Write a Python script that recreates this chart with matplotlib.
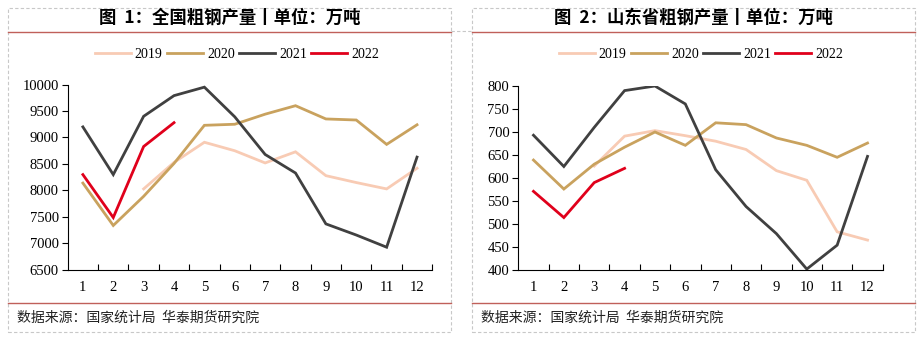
import numpy as np
import matplotlib
matplotlib.use("Agg")
import matplotlib.pyplot as plt
from matplotlib.patches import Rectangle
from matplotlib.lines import Line2D

months = [1, 2, 3, 4, 5, 6, 7, 8, 9, 10, 11, 12]
years = ["2019", "2020", "2021", "2022"]
colors = ["#F8CBB4", "#C9A25E", "#404040", "#E0001B"]

# national crude steel output, 10k tonnes
nat_2019 = [np.nan, np.nan, 8030, 8530, 8910, 8750, 8520, 8730, 8280, 8150, 8030, 8420]
nat_2020 = [8140, 7340, 7890, 8510, 9230, 9250, 9440, 9600, 9350, 9330, 8870, 9240]
nat_2021 = [9200, 8300, 9400, 9790, 9950, 9390, 8680, 8330, 7370, 7160, 6930, 8630]
nat_2022 = [8300, 7490, 8830, 9280]

# Shandong crude steel output, 10k tonnes
sd_2019 = [np.nan, np.nan, 626, 691, 703, 692, 680, 662, 616, 595, 483, 465]
sd_2020 = [639, 576, 630, 667, 700, 671, 720, 716, 687, 671, 645, 676]
sd_2021 = [693, 625, 710, 790, 800, 761, 618, 538, 479, 402, 454, 647]
sd_2022 = [571, 514, 590, 621]

W, H = 923, 339
fig = plt.figure(figsize=(W / 100, H / 100), dpi=100)

serif = "Liberation Serif"
cjk = ["Noto Sans CJK SC", "DejaVu Sans"]


def fx(x):
    return x / W


def fy(y):
    return 1 - y / H


def panel(x0, x1, title, legend_cx):
    # dashed frame
    fig.patches.append(Rectangle((fx(x0), fy(331.7)), fx(x1 - x0), (331.7 - 7.5) / H,
                                 transform=fig.transFigure, fill=False,
                                 edgecolor="#C8C8C8", linewidth=0.8,
                                 linestyle=(0, (3, 2))))
    for yy in (31.5, 303):
        fig.add_artist(Line2D([fx(x0), fx(x1)], [fy(yy), fy(yy)],
                              transform=fig.transFigure, color="#C0605A", lw=1.0))
    fig.text(fx((x0 + x1) / 2), fy(18), title, ha="center", va="center",
             fontsize=12.5, fontweight="bold", family=cjk)
    fig.text(fx(x0 + 9), fy(318), "数据来源：国家统计局  华泰期货研究院",
             ha="left", va="center", fontsize=10, family=cjk, color="#222222")
    handles = [Line2D([], [], color=c, lw=2.0) for c in colors]
    fig.legend(handles, years, loc="center", bbox_to_anchor=(fx(legend_cx), fy(54)),
               ncol=4, frameon=False, handlelength=2.6, handletextpad=0.3,
               columnspacing=0.3, prop={"family": serif, "size": 10})


def draw(ax_px, series, ylim, ystep):
    x0, x1, ytop, ybot = ax_px
    ax = fig.add_axes([fx(x0), fy(ybot), fx(x1 - x0), (ybot - ytop) / H])
    for vals, c in zip(series, colors):
        ax.plot(months[:len(vals)], vals, color=c, lw=2.0, solid_joinstyle="miter")
    ax.set_xlim(0.5, 12.5)
    ax.set_ylim(*ylim)
    ax.set_yticks(np.arange(ylim[0], ylim[1] + 1, ystep))
    ax.set_xticks(months)
    ax.set_xticks(np.arange(1.5, 13, 1), minor=True)
    ax.tick_params(axis="x", which="major", length=0, pad=8)
    ax.tick_params(axis="x", which="minor", direction="in", length=4, width=0.8)
    ax.tick_params(axis="y", direction="out", length=4.5, width=0.8, pad=2)
    for lab in ax.get_xticklabels() + ax.get_yticklabels():
        lab.set_family(serif)
        lab.set_fontsize(10.5)
    for s in ("top", "right"):
        ax.spines[s].set_visible(False)
    for s in ("left", "bottom"):
        ax.spines[s].set_linewidth(0.8)
    ax.patch.set_alpha(0)
    return ax


panel(8, 451.3, "图  1：全国粗钢产量丨单位：万吨", 237)
panel(472.3, 915, "图  2：山东省粗钢产量丨单位：万吨", 701)

# short dashed link between the two title rules
fig.add_artist(Line2D([fx(451.3), fx(472.3)], [fy(31.3), fy(31.3)],
                      transform=fig.transFigure, color="#C8C8C8", lw=0.8,
                      linestyle=(0, (3, 2))))

draw((67.7, 432.2, 84.5, 270), [nat_2019, nat_2020, nat_2021, nat_2022], (6500, 10000), 500)
draw((518.3, 882.7, 86, 270), [sd_2019, sd_2020, sd_2021, sd_2022], (400, 800), 50)

fig.savefig("out.png", dpi=100, facecolor="white")
